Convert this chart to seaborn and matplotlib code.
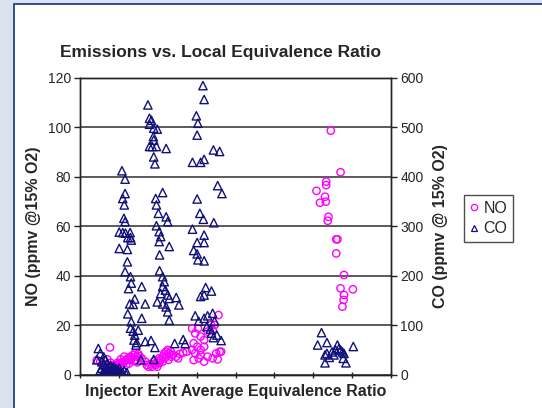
import numpy as np
import pandas as pd
import matplotlib
matplotlib.use("Agg")
import matplotlib.pyplot as plt
from matplotlib.patches import Rectangle
from matplotlib.lines import Line2D
import seaborn as sns

# ---------------- data ----------------
title = "Emissions vs. Local Equivalence Ratio"
x_label = "Injector Exit Average Equivalence Ratio"
no_label = "NO (ppmv @15% O2)"
co_label = "CO (ppmv @ 15% O2)"
series_names = ["NO", "CO"]

no_x = [0.242, 0.251, 0.260, 0.276, 0.269, 0.278, 0.287, 0.296, 0.304, 0.309,
        0.313, 0.318, 0.322, 0.329, 0.336, 0.340, 0.345, 0.349, 0.296, 0.304,
        0.313, 0.327, 0.358, 0.367, 0.371, 0.376, 0.385, 0.394, 0.398, 0.403,
        0.407, 0.412, 0.416, 0.421, 0.425, 0.429, 0.434, 0.389, 0.403, 0.412,
        0.447, 0.456, 0.465, 0.474, 0.452,
        0.332, 0.338, 0.343, 0.347, 0.352, 0.380, 0.392, 0.400, 0.418, 0.423,
        0.427, 0.433, 0.438, 0.300, 0.307, 0.318, 0.325,
        0.488, 0.496, 0.503, 0.510, 0.519, 0.528, 0.537, 0.546, 0.556, 0.541,
        0.492, 0.501, 0.510, 0.519, 0.488, 0.496, 0.492, 0.505, 0.519, 0.528,
        0.541, 0.554, 0.559, 0.563, 0.550, 0.510,
        0.846, 0.871, 0.809, 0.834, 0.834, 0.831, 0.833, 0.818, 0.840, 0.838,
        0.860, 0.863, 0.860, 0.880, 0.903, 0.871, 0.880, 0.879, 0.876]
no_y = [5.9, 5.3, 3.9, 11.0, 6.2, 4.8, 3.9, 3.2, 3.5, 4.6,
        5.3, 5.9, 6.6, 7.3, 7.9, 8.6, 7.3, 8.4, 4.8, 6.2,
        7.3, 5.9, 6.6, 5.3, 3.9, 3.2, 3.2, 3.9, 3.2, 4.6,
        5.9, 7.3, 8.6, 9.3, 10.0, 8.6, 7.3, 5.3, 6.6, 5.3,
        7.3, 8.4, 8.9, 9.3, 6.6,
        6.5, 5.5, 6.0, 5.0, 7.5, 4.2, 4.5, 5.5, 6.8, 7.8,
        6.0, 9.5, 8.0, 4.5, 5.0, 4.0, 4.5,
        18.7, 16.7, 18.7, 15.4, 14.0, 17.4, 20.1, 20.1, 24.1, 18.0,
        12.7, 11.3, 10.0, 11.3, 10.0, 8.6, 5.9, 6.6, 5.3, 7.3,
        6.6, 6.2, 9.3, 9.3, 8.6, 7.9,
        98.6, 81.8, 74.3, 78.0, 76.6, 71.9, 69.9, 69.5, 63.8, 62.2,
        54.7, 54.7, 49.0, 40.3, 34.5, 34.9, 32.2, 30.2, 27.5]

co_x = [0.246, 0.251, 0.260, 0.242, 0.255, 0.260, 0.251, 0.260, 0.269, 0.278,
        0.287, 0.296, 0.304, 0.309, 0.255, 0.269, 0.278, 0.287, 0.300, 0.269,
        0.278, 0.260, 0.265, 0.283, 0.292, 0.313, 0.320,
        0.264, 0.273, 0.282, 0.291, 0.274, 0.286, 0.298,
        0.307, 0.315, 0.315, 0.309, 0.313, 0.312, 0.315, 0.300, 0.309, 0.316,
        0.328, 0.329, 0.322, 0.331, 0.300, 0.321, 0.321, 0.315, 0.329, 0.331,
        0.324, 0.340, 0.327, 0.336, 0.322, 0.331, 0.329, 0.336, 0.340, 0.338,
        0.345, 0.343, 0.349, 0.358, 0.367, 0.358, 0.367, 0.382, 0.392, 0.356,
        0.389,
        0.374, 0.378, 0.383, 0.378, 0.389, 0.398, 0.388, 0.389, 0.385, 0.378,
        0.396, 0.421, 0.389, 0.392, 0.394, 0.412, 0.396, 0.401, 0.421, 0.425,
        0.396, 0.403, 0.407, 0.403, 0.429, 0.404, 0.404, 0.412, 0.416, 0.412,
        0.419, 0.425, 0.407, 0.429, 0.398, 0.412, 0.421, 0.425, 0.429, 0.447,
        0.454, 0.443, 0.465, 0.470,
        0.516, 0.519, 0.499, 0.503, 0.501, 0.489, 0.510, 0.519, 0.543, 0.559,
        0.501, 0.554, 0.565, 0.508, 0.517, 0.544, 0.489, 0.519, 0.501, 0.519,
        0.492, 0.501, 0.503, 0.519, 0.510, 0.519, 0.523, 0.538, 0.496, 0.505,
        0.519, 0.528, 0.541, 0.546, 0.526, 0.535, 0.538, 0.552, 0.563, 0.543,
        0.822, 0.812, 0.836, 0.831, 0.836, 0.842, 0.831, 0.854, 0.863, 0.867,
        0.871, 0.876, 0.880, 0.878, 0.885, 0.904, 0.849, 0.858]
co_y = [53, 43, 36, 30, 26, 20, 9, 4, 4, 4,
        4, 4, 4, 4, 13, 13, 9, 9, 13, 23,
        18, 8, 30, 15, 12, 8, 4,
        6, 6, 6, 6, 16, 16, 8,
        412, 395, 366, 356, 343, 316, 309, 288, 287, 286,
        287, 277, 277, 272, 255, 253, 228, 208, 198, 185,
        174, 153, 143, 142, 123, 107, 94, 88, 80, 70,
        65, 60, 90, 178, 143, 114, 67, 69, 55, 30,
        31,
        545, 518, 514, 506, 498, 496, 481, 474, 461, 461,
        461, 457, 440, 426, 356, 368, 343, 326, 319, 309,
        301, 289, 279, 269, 259, 242, 210, 198, 188, 178,
        171, 161, 164, 154, 147, 143, 137, 127, 110, 156,
        141, 63, 71, 63,
        584, 556, 523, 508, 484, 429, 429, 435, 454, 451,
        355, 382, 366, 326, 314, 307, 294, 282, 267, 267,
        251, 244, 232, 230, 158, 161, 176, 169, 119, 108,
        114, 119, 124, 108, 97, 92, 84, 80, 69, 75,
        85, 60, 65, 40, 43, 35, 24, 40, 60, 53,
        50, 46, 43, 33, 24, 57, 46, 50]

no_ticks = [0, 20, 40, 60, 80, 100, 120]
co_ticks = [0, 100, 200, 300, 400, 500, 600]
x_ticks = [0.2, 0.3, 0.4, 0.5, 0.6, 0.7, 0.8, 0.9, 1.0]

no_df = pd.DataFrame({"ratio": no_x, "ppm": no_y})
co_df = pd.DataFrame({"ratio": co_x, "ppm": co_y})

# ---------------- style ----------------
sns.set_theme(style="white")
plt.rcParams["font.family"] = ["Liberation Sans", "DejaVu Sans"]

NO_COLOR = "#ff00ff"
CO_COLOR = "#10107a"

fig = plt.figure(figsize=(5.42, 4.08), dpi=100)
fig.patch.set_facecolor("#dae2ed")
panel = Rectangle((13.8 / 542, -0.02), 1.0, 1 - 4 / 408 + 0.02,
                  transform=fig.transFigure, facecolor="white",
                  edgecolor="#24428a", linewidth=1.3, zorder=-10)
fig.patches.append(panel)

ax = fig.add_axes([80.5 / 542, 1 - 374.7 / 408, 310 / 542, 297 / 408])
ax.set_facecolor("none")
ax2 = ax.twinx()
ax2.set_facecolor("none")

sns.scatterplot(data=no_df, x="ratio", y="ppm", ax=ax, marker="o", s=28,
                facecolor="none", edgecolor=NO_COLOR, linewidth=1.0,
                legend=False, zorder=3)
sns.scatterplot(data=co_df, x="ratio", y="ppm", ax=ax2, marker="^", s=36,
                facecolor="none", edgecolor=CO_COLOR, linewidth=1.0,
                legend=False, zorder=3)

ax.set_xlim(0.2, 1.0)
ax.set_ylim(0, 120)
ax2.set_ylim(0, 600)
ax.set_xticks(x_ticks)
ax.set_xticklabels([])
ax.set_yticks(no_ticks)
ax.set_yticklabels([str(v) for v in no_ticks], fontsize=10)
ax2.set_yticks(co_ticks)
ax2.set_yticklabels([str(v) for v in co_ticks], fontsize=10)

ax.set_axisbelow(True)
ax.yaxis.grid(True, color="#2e2e2e", linewidth=1.1)
ax.xaxis.grid(False)
ax2.grid(False)

for a in (ax, ax2):
    for sp in a.spines.values():
        sp.set_color("#222222")
        sp.set_linewidth(1.0)
ax.tick_params(axis="y", direction="out", length=4, width=1, color="#222222",
               pad=3, left=True)
ax.tick_params(axis="x", direction="inout", length=5, width=1, color="#222222",
               bottom=True)
ax2.tick_params(axis="y", direction="out", length=4, width=1, color="#222222",
                pad=3, right=True)

ax.set_xlabel(x_label, fontsize=11.5, fontweight="bold", labelpad=1)
ax.set_ylabel(no_label, fontsize=11.5, fontweight="bold", labelpad=5)
ax2.set_ylabel(co_label, fontsize=11.5, fontweight="bold", labelpad=7)
fig.text(221 / 542, 1 - 53 / 408, title, ha="center", va="center",
         fontsize=12.5, fontweight="bold")

handles = [
    Line2D([], [], linestyle="none", marker="o", markersize=4.5,
           markerfacecolor="none", markeredgecolor=NO_COLOR, markeredgewidth=0.9),
    Line2D([], [], linestyle="none", marker="^", markersize=5,
           markerfacecolor="none", markeredgecolor=CO_COLOR, markeredgewidth=0.9),
]
leg = fig.legend(handles, series_names, loc="center",
                 bbox_to_anchor=(488.5 / 542, 1 - 218.5 / 408),
                 fontsize=11.5, frameon=True, fancybox=False,
                 handlelength=0.6, handletextpad=0.3, borderpad=0.35,
                 labelspacing=0.35)
leg.get_frame().set_edgecolor("#222222")
leg.get_frame().set_linewidth(1.0)

fig.savefig("out.png", dpi=100, facecolor=fig.get_facecolor())
